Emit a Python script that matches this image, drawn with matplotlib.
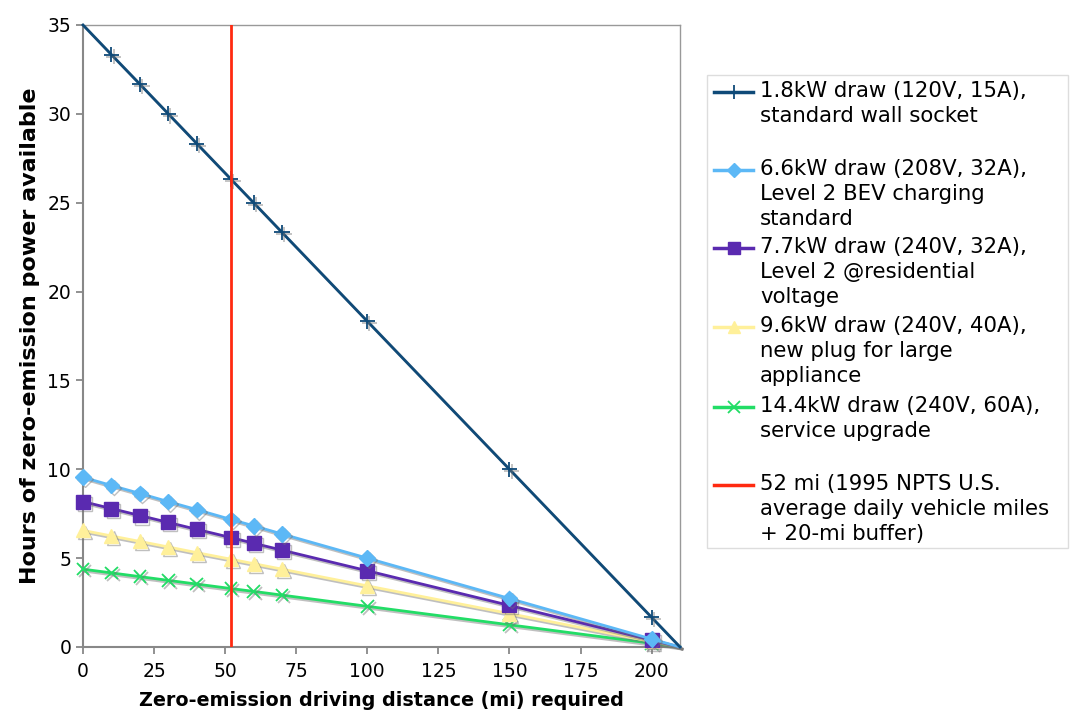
import matplotlib
matplotlib.use('Agg')
import matplotlib.pyplot as plt
import matplotlib.patheffects as pe
from matplotlib.lines import Line2D
from matplotlib.patches import Rectangle

plt.rcParams['font.family'] = ['DejaVu Sans']

# distance required (mi) and hours of zero-emission power available
dist = [0, 10, 20, 30, 40, 52, 60, 70, 100, 150, 200, 210]
h18 = [35, 33.33, 31.67, 30, 28.33, 26.33, 25, 23.33, 18.33, 10, 1.67, 0]
h66 = [9.55, 9.09, 8.64, 8.18, 7.73, 7.18, 6.82, 6.36, 5.0, 2.73, 0.45, 0]
h77 = [8.18, 7.79, 7.40, 7.01, 6.62, 6.16, 5.84, 5.45, 4.29, 2.34, 0.39, 0]
h96 = [6.56, 6.25, 5.94, 5.63, 5.31, 4.94, 4.69, 4.38, 3.44, 1.88, 0.31, 0]
h144 = [4.38, 4.17, 3.96, 3.75, 3.54, 3.29, 3.13, 2.92, 2.29, 1.25, 0.21, 0]
npts_mi = 52

labels = ['1.8kW draw (120V, 15A),\nstandard wall socket',
          '6.6kW draw (208V, 32A),\nLevel 2 BEV charging\nstandard',
          '7.7kW draw (240V, 32A),\nLevel 2 @residential\nvoltage',
          '9.6kW draw (240V, 40A),\nnew plug for large\nappliance',
          '14.4kW draw (240V, 60A),\nservice upgrade',
          '52 mi (1995 NPTS U.S.\naverage daily vehicle miles\n+ 20-mi buffer)']

cols = ['#0f4a78', '#5cb8f6', '#5a2ab0', '#fff09a', '#22dd66', '#ff2a10']
marks = ['+', 'D', 's', '^', 'x']
msz = [11, 8, 10, 10, 9]

fig = plt.figure(figsize=(10.7, 7.19), dpi=100)
ax = fig.add_axes([83/1070, 1-647/719, 597/1070, 622/719])

shadow = [pe.SimpleLineShadow(offset=(1.5, -1.5), shadow_color='0.45', alpha=0.45), pe.Normal()]
series = [h18, h66, h77, h96, h144]
for i, ys in enumerate(series):
    ax.plot(dist, ys, color=cols[i], lw=2.0, marker=marks[i], ms=msz[i],
            mew=1.3 if marks[i] in '+x' else 1.0,
            markevery=slice(1 if i == 0 else 0, -1),
            path_effects=shadow, zorder=5 - i + 3, clip_on=False)

ax.axvline(npts_mi, color=cols[5], lw=2.0, zorder=10)

ax.set_xlim(0, 210)
ax.set_ylim(0, 35)
ax.set_xticks(range(0, 201, 25))
ax.set_yticks(range(0, 36, 5))
for s in ['left', 'bottom']:
    ax.spines[s].set_color('#888888')
    ax.spines[s].set_linewidth(1.5)
for s in ['top', 'right']:
    ax.spines[s].set_color('#999999')
    ax.spines[s].set_linewidth(1.0)
ax.tick_params(axis='both', colors='#888888', labelcolor='black', labelsize=13.5, length=5, width=1.3, direction='out')
ax.tick_params(axis='x', pad=6)
ax.set_xlabel('Zero-emission driving distance (mi) required', fontsize=13.8, fontweight='bold', labelpad=7)
ax.set_ylabel('Hours of zero-emission power available', fontsize=16, fontweight='bold', labelpad=5)

# legend drawn by hand to keep Excel-style entry layout
fig.patches.append(Rectangle((707/1070, 1-548/719), 361/1070, 473/719, transform=fig.transFigure,
                             facecolor='white', edgecolor='#dddddd', lw=1.0))
ys_leg = [92, 170, 248, 327, 407, 485]
for i, yy in enumerate(ys_leg):
    yf = 1 - yy/719
    ln = Line2D([714/1070, 753/1070], [yf, yf], transform=fig.transFigure, color=cols[i], lw=2.5)
    fig.lines.append(ln)
    if i < 5:
        mk = Line2D([733.5/1070], [yf], transform=fig.transFigure, color=cols[i], marker=marks[i],
                    ms=msz[i]*0.9, mew=1.3 if marks[i] in '+x' else 1.0, lw=0)
        fig.lines.append(mk)
    fig.text(760/1070, 1 - (yy - 11)/719, labels[i], fontsize=15.3, va='top', ha='left', linespacing=1.3)

fig.savefig('out.png', dpi=100)
